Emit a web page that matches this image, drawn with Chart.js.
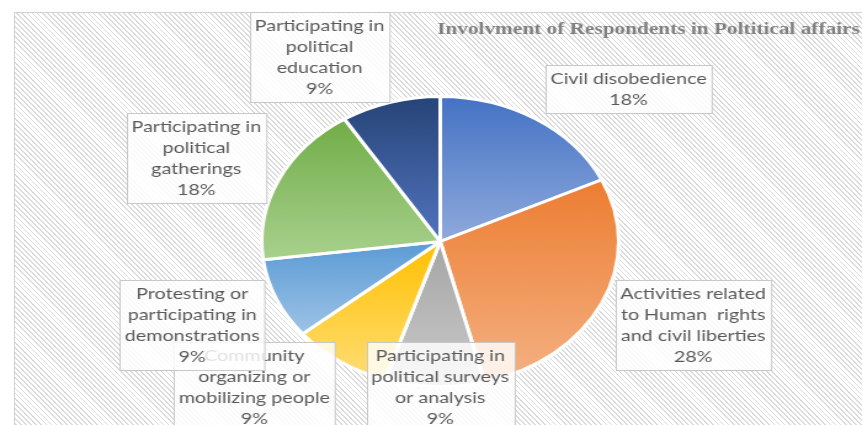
<!DOCTYPE html>
<html><head><meta charset="utf-8">
<script src="https://cdn.jsdelivr.net/npm/chart.js@4/dist/chart.umd.min.js"></script>
<style>
html,body{margin:0;padding:0;background:#fff;overflow:hidden;width:862px;height:425px;position:relative}
#bg{position:absolute;left:14px;top:12px;width:860px;height:420px;border-left:1px solid #d2d2d2;border-top:1px solid #d2d2d2;
background:repeating-linear-gradient(45deg,#ffffff 0px,#ffffff 2.4px,#dcdcdc 2.4px,#dcdcdc 3.6px)}
#wrap{position:absolute;left:0;top:0;width:700px;height:425px;transform:scaleX(1.2314);transform-origin:0 0}
</style></head><body>
<div id="bg"></div>
<div id="wrap"><canvas id="c"></canvas></div>
<script>
const categoryLines = [
  ["Civil disobedience"],
  ["Activities related", "to Human  rights", "and civil liberties"],
  ["Participating in", "political surveys", "or analysis"],
  ["Community", "organizing or", "mobilizing people"],
  ["Protesting or", "participating in", "demonstrations"],
  ["Participating in", "political", "gatherings"],
  ["Participating in", "political", "education"]
];
const categories = categoryLines.map(l => l.join(' '));
const percentages = [18, 28, 9, 9, 9, 18, 9];
const percentLabels = percentages.map(v => v + '%');
const chartTitle = 'Involvment of Respondents in Poltitical affairs';

const baseColors  = ['#4472C4', '#ED7D31', '#A5A5A5', '#FFC000', '#5B9BD5', '#70AD47', '#264478'];
const lightColors = ['#8FAADC', '#F4B183', '#CACACA', '#FFDD75', '#9DC3E6', '#A9D18E', '#5274BE'];
// label box centres, in pie radii from the pie centre
const labelAnchors = [[1.055, -1.055], [1.417, 0.579], [0.0, 1.006], [-1.041, 1.006], [-1.389, 0.579], [-1.366, -0.579], [-0.676, -1.269]];

const gradientPlugin = {
  id: 'sliceGradient',
  beforeDatasetsDraw(chart) {
    const ctx = chart.ctx;
    const meta = chart.getDatasetMeta(0);
    meta.data.forEach((arc, i) => {
      const p = arc.getProps(['x', 'y', 'startAngle', 'endAngle', 'outerRadius'], true);
      const ys = [p.y, p.y + p.outerRadius * Math.sin(p.startAngle), p.y + p.outerRadius * Math.sin(p.endAngle)];
      for (const a of [-Math.PI / 2, Math.PI / 2, 3 * Math.PI / 2]) {
        if (a > p.startAngle && a < p.endAngle) ys.push(p.y + p.outerRadius * Math.sin(a));
      }
      const g = ctx.createLinearGradient(0, Math.min(...ys), 0, Math.max(...ys));
      g.addColorStop(0, baseColors[i]);
      g.addColorStop(1, lightColors[i]);
      arc.options = Object.assign({}, arc.options, { backgroundColor: g });
    });
  }
};

const labelPlugin = {
  id: 'boxLabels',
  afterDatasetsDraw(chart) {
    const ctx = chart.ctx;
    const meta = chart.getDatasetMeta(0);
    const a0 = meta.data[0];
    const cx = a0.x, cy = a0.y, r = a0.outerRadius;
    ctx.save();
    ctx.font = '16px Lato';
    ctx.textAlign = 'center';
    ctx.textBaseline = 'middle';
    const lh = 21;
    meta.data.forEach((arc, i) => {
      const lines = categoryLines[i].concat([percentLabels[i]]);
      const w = Math.max(...lines.map(l => ctx.measureText(l).width)) + 8;
      const h = lines.length * lh + 6;
      const ax = cx + labelAnchors[i][0] * r, ay = cy + labelAnchors[i][1] * r;
      const x0 = Math.round(ax - w / 2) + 0.5, y0 = Math.round(ay - h / 2) + 0.5;
      ctx.fillStyle = 'rgba(255,255,255,0.82)';
      ctx.fillRect(x0, y0, w, h);
      ctx.strokeStyle = '#c8c8c8';
      ctx.lineWidth = 1;
      ctx.strokeRect(x0, y0, w, h);
      ctx.fillStyle = '#595959';
      lines.forEach((l, k) => ctx.fillText(l, ax, y0 + 3 + lh * (k + 0.5)));
    });
    ctx.font = 'bold 17.3px "Liberation Serif"';
    ctx.textAlign = 'left';
    ctx.fillStyle = '#7f7f7f';
    ctx.fillText(chartTitle, 355, 30);
    ctx.restore();
  }
};

new Chart(document.getElementById('c'), {
  type: 'pie',
  data: {
    labels: categories,
    datasets: [{
      data: percentages,
      backgroundColor: baseColors,
      borderColor: '#ffffff',
      borderWidth: 3
    }]
  },
  options: {
    responsive: true,
    maintainAspectRatio: false,
    animation: false,
    layout: { padding: { left: 211, right: 196, top: 95, bottom: 37 } },
    plugins: { legend: { display: false }, tooltip: { enabled: false }, title: { display: false } }
  },
  plugins: [gradientPlugin, labelPlugin]
});
</script>
</body></html>
